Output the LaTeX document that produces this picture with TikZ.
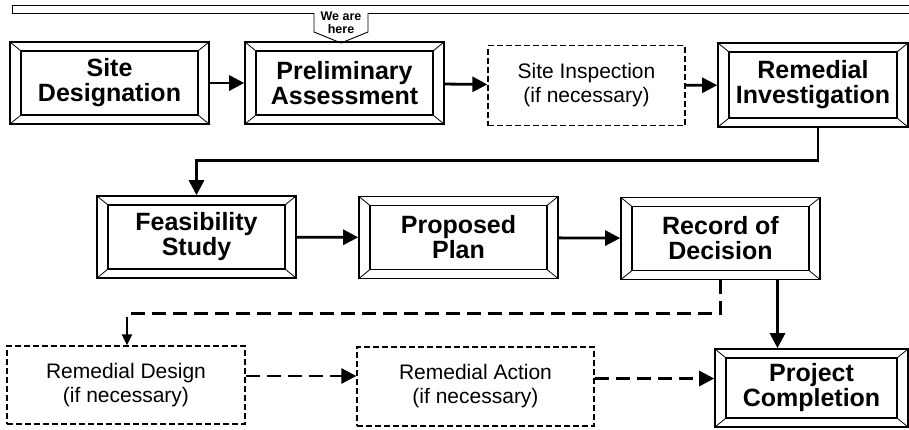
\documentclass[tikz,border=0pt]{standalone}
\usepackage{fontspec}
\setmainfont{Liberation Sans}
\usepackage{tikz}
\usetikzlibrary{arrows.meta,calc,positioning}

\tikzset{
  >={Triangle[length=15pt,width=15pt]},
  stage/.style={draw,line width=1.6pt,inner sep=0pt,align=center,
    minimum width=199pt,minimum height=82pt,
    font=\bfseries\fontsize{25}{25}\selectfont,
    path picture={
      \draw [line width=1.1pt]
        ([shift={(11pt,-9pt)}]path picture bounding box.north west) rectangle
        ([shift={(-11pt,9pt)}]path picture bounding box.south east) ;
      \draw [line width=0.8pt]
        (path picture bounding box.north west) -- ++(11pt,-9pt)
        (path picture bounding box.north east) -- ++(-11pt,-9pt)
        (path picture bounding box.south west) -- ++(11pt,9pt)
        (path picture bounding box.south east) -- ++(-11pt,9pt) ;
    }},
  optional/.style={draw,line width=1.3pt,dash pattern=on 6pt off 3pt,
    inner sep=0pt,align=center,minimum width=197pt,minimum height=80pt,
    font=\fontsize{21}{24}\selectfont},
  flow/.style={line width=2.8pt},
  maybe/.style={line width=2.8pt,dash pattern=on 14pt off 7pt},
}

\begin{document}
\begin{tikzpicture}[x=1pt,y=-1pt]
%
  \useasboundingbox (0,0) rectangle (909,429) ;
%
  % banner along the top
  \draw [line width=0.9pt] (909,5) -- (12,5) -- (12,13) -- (909,13) ;
  \coordinate (flag) at (341,23) ;
  \draw [line width=0.9pt,fill=white]
    ($(flag)+(-27,-10)$) -- ($(flag)+(-27,9)$) -- ($(flag)+(0,20)$)
    -- ($(flag)+(27,9)$) -- ($(flag)+(27,-10)$) ;
  \node (here) at (flag) [font=\bfseries\fontsize{12.5}{12.5}\selectfont,align=center,inner sep=0pt] {We are\\here} ;
%
  % first row
  \node [stage] (SD) at (109.5,83) {Site\\Designation} ;
  \node [stage] (PA) at (344.5,83) {Preliminary\\Assessment} ;
  \node [optional] (SI) at (586.5,85.5) {Site Inspection\\(if necessary)} ;
  \node [stage,minimum width=190pt,minimum height=84pt] (RI) at (813,85) {Remedial\\Investigation} ;
%
  % second row
  \node [stage] (FS) at (196.5,237) {Feasibility\\Study} ;
  \node [stage] (PP) at (458.5,237.5) {Proposed\\Plan} ;
  \node [stage] (ROD) at (720.5,238.5) {Record of\\Decision} ;
%
  % third row
  \node [optional,minimum width=238pt,minimum height=78pt] (RD) at (126,385) {Remedial Design\\(if necessary)} ;
  \node [optional,minimum width=237pt,minimum height=79pt] (RA) at (475.5,386.5) {Remedial Action\\(if necessary)} ;
  \node [stage,minimum width=193pt,minimum height=78pt] (PC) at (811.5,388) {Project\\Completion} ;
%
  \draw [flow,->] (SD) -- (PA) ;
  \draw [flow,->] (PA) -- (SI) ;
  \draw [flow,->] (SI) -- (RI) ;
  \draw [flow,->] ([xshift=5pt]RI.south) -- ++(0,33) -| (FS.north) ;
  \draw [flow,->] (FS) -- (PP) ;
  \draw [flow,->] (PP) -- (ROD) ;
  \draw [flow,->] ([xshift=57pt]ROD.south) -- ([xshift=57pt]ROD.south |- PC.north) ;
  \draw [maybe] (ROD.south) -- ++(0,33) -| ($(RD.north)+(1,-12)$) ;
  \draw [line width=2pt,-{Triangle[length=11pt,width=10pt]}] ($(RD.north)+(1,-14)$) -- ($(RD.north)+(1,0)$) ;
  \draw [maybe,->] ([yshift=9pt]RD.east) -- ([yshift=9pt]RD.east -| RA.west) ;
  \draw [maybe,->] ([yshift=8pt]RA.east) -- ([yshift=8pt]RA.east -| PC.west) ;
%
\end{tikzpicture}
\end{document}
